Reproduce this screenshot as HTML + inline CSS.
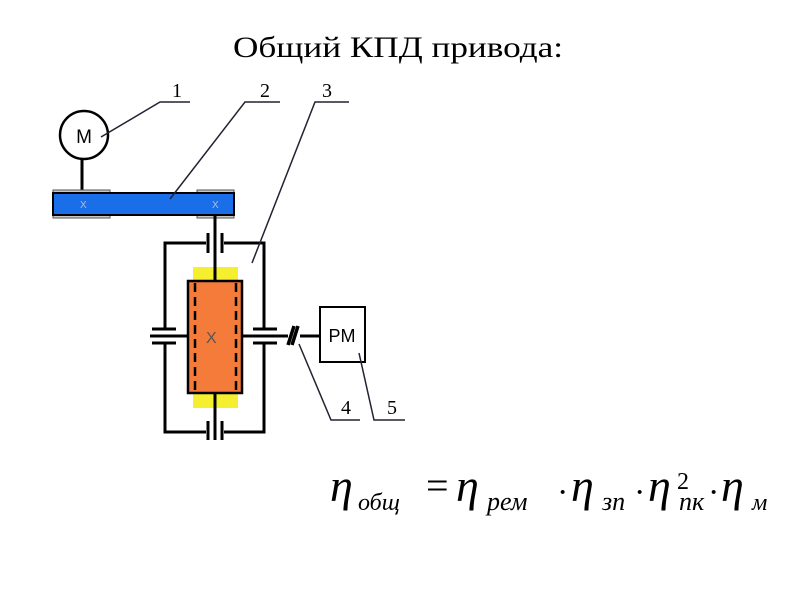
<!DOCTYPE html>
<html><head><meta charset="utf-8"><style>
body{margin:0;width:800px;height:600px;background:#fff;overflow:hidden}
svg{position:absolute;left:0;top:0}
</style></head><body>
<svg width="800" height="600" viewBox="0 0 800 600">
<text x="233" y="57" textLength="330" lengthAdjust="spacingAndGlyphs" font-family="Liberation Serif, serif" font-size="30">Общий КПД привода:</text>
<g stroke="#000" stroke-width="3" fill="none">
<circle cx="84" cy="135" r="24" stroke-width="2.5"/>
<line x1="82" y1="159" x2="82" y2="192"/>
</g>
<text x="84" y="143" text-anchor="middle" font-family="Liberation Sans, sans-serif" font-size="19">M</text>
<rect x="53" y="190" width="57" height="28" fill="#c8c8c8" stroke="#555" stroke-width="1"/>
<rect x="197" y="190" width="37" height="28" fill="#c8c8c8" stroke="#555" stroke-width="1"/>
<rect x="53" y="193" width="181" height="22" fill="#1a6ee8" stroke="#000" stroke-width="2"/>
<text x="80" y="208" font-family="Liberation Sans,sans-serif" font-size="10" fill="#bbd">X</text>
<text x="212" y="208" font-family="Liberation Sans,sans-serif" font-size="10" fill="#bbd">X</text>
<path d="M193 267 L238 267 L238 282 L193 282 Z" fill="#f5ef30"/>
<path d="M193 393 L238 393 L238 408 L193 408 Z" fill="#f5ef30"/>
<rect x="188" y="281" width="54" height="112" fill="#f47b3a" stroke="#000" stroke-width="2.5"/>
<g stroke="#000" stroke-width="2.5" stroke-dasharray="9,5">
<line x1="195" y1="283" x2="195" y2="391"/><line x1="236" y1="283" x2="236" y2="391"/>
</g>
<text x="206" y="343" font-family="Liberation Sans,sans-serif" font-size="16" fill="#555">X</text>
<g stroke="#000" stroke-width="3" fill="none">
<line x1="215" y1="215" x2="215" y2="281"/>
<line x1="215" y1="393" x2="215" y2="440"/>
<path d="M206 243 L165 243 L165 329"/><path d="M224 243 L264 243 L264 329"/>
<path d="M165 343 L165 432 L206 432"/><path d="M264 343 L264 432 L224 432"/>
<line x1="208" y1="233" x2="208" y2="253"/><line x1="222" y1="233" x2="222" y2="253"/>
<line x1="208" y1="421" x2="208" y2="440"/><line x1="222" y1="421" x2="222" y2="440"/>
<line x1="152" y1="329" x2="176" y2="329"/><line x1="152" y1="343" x2="176" y2="343"/>
<line x1="253" y1="329" x2="277" y2="329"/><line x1="253" y1="343" x2="277" y2="343"/>
<line x1="150" y1="336" x2="188" y2="336"/>
<line x1="242" y1="336" x2="288" y2="336"/>
<line x1="300" y1="336" x2="320" y2="336"/>
<path d="M288 345 L294 326 M292 345 L298 326" stroke-width="3.5"/>
<rect x="320" y="307" width="45" height="55" stroke-width="2"/>
</g>
<text x="342" y="342" text-anchor="middle" font-family="Liberation Sans,sans-serif" font-size="18">PM</text>
<g stroke="#223" stroke-width="1.5" fill="none">
<path d="M190 102 L160 102 L101 137"/>
<path d="M280 102 L245 102 L170 199"/>
<path d="M349 102 L315 102 L252 263"/>
<path d="M299 344 L331 420 L360 420"/>
<path d="M359 353 L374 420 L405 420"/>
</g>
<g font-family="Liberation Serif,serif" font-size="20">
<text x="172" y="97">1</text><text x="260" y="97">2</text><text x="322" y="97">3</text>
<text x="341" y="414">4</text><text x="387" y="414">5</text>
</g>
<g font-family="Liberation Serif,serif" font-style="italic">
<text x="330" y="501" font-size="46">η</text><text x="358" y="510" font-size="24">общ</text>
<text x="426" y="499" font-size="40" font-style="normal">=</text>
<text x="456" y="501" font-size="46">η</text><text x="487" y="510" font-size="26">рем</text>
<text x="557" y="503" font-size="34" font-style="normal">·</text>
<text x="571" y="501" font-size="46">η</text><text x="602" y="510" font-size="26">зп</text>
<text x="634" y="503" font-size="34" font-style="normal">·</text>
<text x="648" y="501" font-size="46">η</text><text x="679" y="510" font-size="26">пк</text>
<text x="677" y="489" font-size="24" font-style="normal">2</text>
<text x="708" y="503" font-size="34" font-style="normal">·</text>
<text x="721" y="501" font-size="46">η</text><text x="752" y="510" font-size="24">м</text>
</g>
</svg>
</body></html>
